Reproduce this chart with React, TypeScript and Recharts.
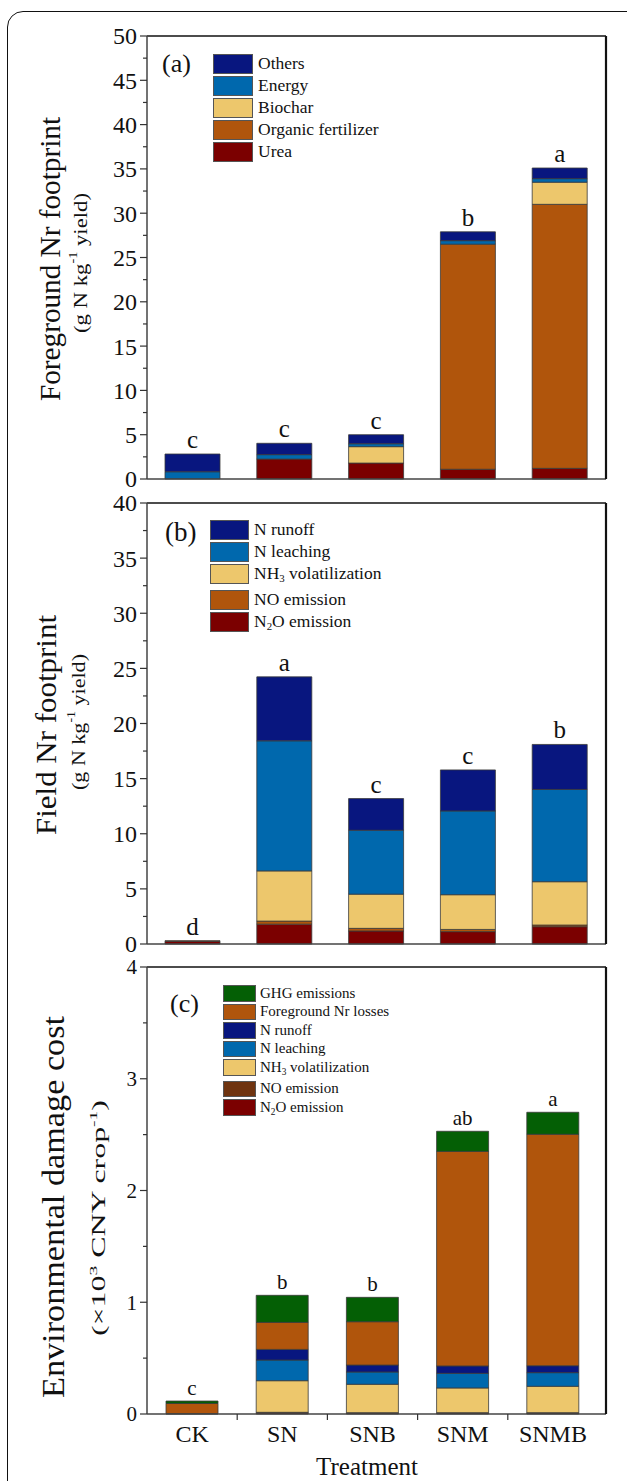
import React from 'react';
import { BarChart, Bar, XAxis, YAxis, LabelList } from 'recharts';

const FONT = '"Liberation Serif", "Times New Roman", serif';

// ---------- data ----------
const treatments = ['CK', 'SN', 'SNB', 'SNM', 'SNMB'];

// (a) Foreground Nr footprint (g N kg-1 yield)
const aUrea = [0, 2.25, 1.8, 1.1, 1.2];
const aOrganic = [0, 0, 0, 25.4, 29.8];
const aBiochar = [0, 0, 1.85, 0, 2.5];
const aEnergy = [0.82, 0.5, 0.33, 0.4, 0.4];
const aOthers = [2.0, 1.28, 1.02, 1.0, 1.2];
const aSig = ['c', 'c', 'c', 'b', 'a'];
const aTicks = [0, 2.5, 5, 7.5, 10, 12.5, 15, 17.5, 20, 22.5, 25, 27.5, 30, 32.5, 35, 37.5, 40, 42.5, 45, 47.5, 50];

// (b) Field Nr footprint (g N kg-1 yield)
const bN2O = [0.24, 1.8, 1.18, 1.12, 1.57];
const bNO = [0.06, 0.28, 0.24, 0.2, 0.15];
const bNH3 = [0, 4.55, 3.1, 3.15, 3.93];
const bLeach = [0, 11.8, 5.8, 7.6, 8.37];
const bRunoff = [0, 5.8, 2.87, 3.72, 4.08];
const bSig = ['d', 'a', 'c', 'c', 'b'];
const bTicks = [0, 2.5, 5, 7.5, 10, 12.5, 15, 17.5, 20, 22.5, 25, 27.5, 30, 32.5, 35, 37.5, 40];

// (c) Environmental damage cost (x10^3 CNY crop-1)
const cN2O = [0.003, 0.01, 0.008, 0.008, 0.008];
const cNO = [0.001, 0.005, 0.004, 0.004, 0.004];
const cNH3 = [0, 0.283, 0.254, 0.221, 0.236];
const cLeach = [0, 0.185, 0.11, 0.131, 0.122];
const cRunoff = [0, 0.095, 0.062, 0.066, 0.062];
const cForeground = [0.09, 0.242, 0.388, 1.92, 2.071];
const cGHG = [0.022, 0.242, 0.218, 0.18, 0.197];
const cSig = ['c', 'b', 'b', 'ab', 'a'];
const cTicks = [0, 0.5, 1, 1.5, 2, 2.5, 3, 3.5, 4];

// ---------- colours ----------
const NAVY = '#08167f';
const BLUE = '#0068ad';
const YELLOW = '#edc76c';
const ORANGE = '#b0550c';
const DARKRED = '#7b0000';
const GREEN = '#045f05';
const BROWN = '#6f3410';
const OUTLINE = '#3a3a3a';

const rowsA = treatments.map((name, i) => ({
  name, urea: aUrea[i], organic: aOrganic[i], biochar: aBiochar[i], energy: aEnergy[i], others: aOthers[i], sig: aSig[i],
}));
const rowsB = treatments.map((name, i) => ({
  name, n2o: bN2O[i], no: bNO[i], nh3: bNH3[i], leach: bLeach[i], runoff: bRunoff[i], sig: bSig[i],
}));
const rowsC = treatments.map((name, i) => ({
  name, n2o: cN2O[i], no: cNO[i], nh3: cNH3[i], leach: cLeach[i], runoff: cRunoff[i], fg: cForeground[i], ghg: cGHG[i], sig: cSig[i],
}));

const keysA = ['urea', 'organic', 'biochar', 'energy', 'others'];
const keysB = ['n2o', 'no', 'nh3', 'leach', 'runoff'];
const keysC = ['n2o', 'no', 'nh3', 'leach', 'runoff', 'fg', 'ghg'];

const makeYTick = (major: number, fontSize: number) => (props: any) => {
  const { x, y, payload } = props;
  const v = payload.value;
  const r = v / major;
  const isMajor = Math.abs(r - Math.round(r)) < 1e-6;
  return (
    <g>
      <line x1={x} x2={x - (isMajor ? 7 : 4)} y1={y} y2={y} stroke="#333" strokeWidth={1.2} />
      {isMajor && (
        <text x={x - 10} y={y} dy="0.35em" textAnchor="end" fontFamily={FONT} fontSize={fontSize} fill="#111">
          {v}
        </text>
      )}
    </g>
  );
};

const BAND_C = (606 - 147 - 8) / 5;
const XTickC = (props: any) => {
  const { x, y, payload, index } = props;
  return (
    <g>
      {index > 0 && (
        <line x1={x - BAND_C / 2} x2={x - BAND_C / 2} y1={y} y2={y + 6} stroke="#333" strokeWidth={1.2} />
      )}
      <text x={x} y={y + 28} textAnchor="middle" fontFamily={FONT} fontSize={24} fill="#111">
        {payload.value}
      </text>
    </g>
  );
};

// significance letter drawn on the topmost non-zero segment of each stack
const sigFor = (rows: any[], keys: string[], key: string, fontSize: number) => (p: any) => {
  const row = rows.find((r) => r.name === p.value);
  if (!row) return null;
  let top = '';
  keys.forEach((k) => { if (row[k] > 0) top = k; });
  if (top !== key) return null;
  const vb = p.viewBox || {};
  const x = (p.x ?? vb.x) + (p.width ?? vb.width) / 2;
  const y = p.y ?? vb.y;
  return (
    <text key={`sig-${key}-${row.name}`} x={x} y={y - 6} textAnchor="middle" fontFamily={FONT} fontSize={fontSize} fill="#111">
      {row.sig}
    </text>
  );
};

const barCommon = { stackId: 's', stroke: OUTLINE, strokeWidth: 0.8, isAnimationActive: false };

type LegendItem = { label: React.ReactNode; color: string; gap?: number };
function LegendBlock(props: {
  left: number; top: number; boxW: number; boxH: number; step: number; fontSize: number; textGap: number; items: LegendItem[];
}) {
  const { left, top, boxW, boxH, step, fontSize, textGap, items } = props;
  return (
    <div style={{ position: 'absolute', left, top, fontFamily: FONT, fontSize, color: '#111' }}>
      {items.map((it, i) => (
        <div key={i} style={{ display: 'flex', alignItems: 'center', height: step, marginTop: it.gap || 0 }}>
          <div style={{ width: boxW, height: boxH, background: it.color, border: '1px solid #555', boxSizing: 'border-box' }} />
          <span style={{ marginLeft: textGap, lineHeight: 1, whiteSpace: 'nowrap' }}>{it.label}</span>
        </div>
      ))}
    </div>
  );
}

const Sub = ({ children }: { children: React.ReactNode }) => (
  <span style={{ fontSize: '0.62em', position: 'relative', top: '0.3em' }}>{children}</span>
);

function Stack(props: { rows: any[]; keys: string[]; colors: string[]; barSize: number; sigSize: number }) {
  return null;
}

export default function App() {
  const axisLine = { stroke: '#444', strokeWidth: 1.5 };
  const frameLine = { stroke: '#111', strokeWidth: 1.5 };
  const rightLine = { stroke: '#111', strokeWidth: 2.2 };
  const colorsA = [DARKRED, ORANGE, YELLOW, BLUE, NAVY];
  const colorsB = [DARKRED, ORANGE, YELLOW, BLUE, NAVY];
  const colorsC = [DARKRED, BROWN, YELLOW, BLUE, NAVY, ORANGE, GREEN];
  return (
    <div style={{ position: 'absolute', left: 0, top: 0, width: 627, height: 1481, overflow: 'hidden', background: '#fff' }}>
      <div
        style={{
          position: 'absolute', left: 7, top: 11, width: 660, height: 1520,
          border: '1.5px solid #111', borderRadius: 16, boxSizing: 'border-box',
        }}
      />

      {/* (a) */}
      <div style={{ position: 'absolute', left: 0, top: 0 }}>
        <BarChart width={627} height={492} data={rowsA} margin={{ top: 35, right: 20, bottom: 12, left: 87 }}>
          <XAxis dataKey="name" height={1} tick={false} tickLine={false} axisLine={axisLine} />
          <XAxis xAxisId="top" orientation="top" dataKey="name" height={1} tick={false} tickLine={false} axisLine={frameLine} />
          <YAxis domain={[0, 50]} ticks={aTicks} interval={0} width={60} tickSize={0} tickMargin={0} tickLine={false}
            axisLine={axisLine} tick={makeYTick(5, 24)} />
          <YAxis yAxisId="right" orientation="right" domain={[0, 50]} width={1} tick={false} tickLine={false} axisLine={rightLine} />
          {keysA.map((k, i) => (
            <Bar key={k} dataKey={k} fill={colorsA[i]} barSize={55} {...barCommon}>
              <LabelList dataKey="name" content={sigFor(rowsA, keysA, k, 25)} />
            </Bar>
          ))}
        </BarChart>
      </div>

      {/* (b) */}
      <div style={{ position: 'absolute', left: 0, top: 470 }}>
        <BarChart width={627} height={487} data={rowsB} margin={{ top: 32, right: 20, bottom: 12, left: 87 }}>
          <XAxis dataKey="name" height={1} tick={false} tickLine={false} axisLine={axisLine} />
          <XAxis xAxisId="top" orientation="top" dataKey="name" height={1} tick={false} tickLine={false} axisLine={frameLine} />
          <YAxis domain={[0, 40]} ticks={bTicks} interval={0} width={60} tickSize={0} tickMargin={0} tickLine={false}
            axisLine={axisLine} tick={makeYTick(5, 24)} />
          <YAxis yAxisId="right" orientation="right" domain={[0, 40]} width={1} tick={false} tickLine={false} axisLine={rightLine} />
          {keysB.map((k, i) => (
            <Bar key={k} dataKey={k} fill={colorsB[i]} barSize={55} {...barCommon}>
              <LabelList dataKey="name" content={sigFor(rowsB, keysB, k, 25)} />
            </Bar>
          ))}
        </BarChart>
      </div>

      {/* (c) */}
      <div style={{ position: 'absolute', left: 0, top: 935 }}>
        <BarChart width={627} height={546} data={rowsC} margin={{ top: 31, right: 20, bottom: 0, left: 87 }}>
          <XAxis dataKey="name" height={67} padding={{ left: 0, right: 8 }} tickSize={0} tickMargin={0} tickLine={false}
            interval={0} axisLine={axisLine} tick={XTickC} />
          <XAxis xAxisId="top" orientation="top" dataKey="name" height={1} tick={false} tickLine={false} axisLine={frameLine} />
          <YAxis domain={[0, 4]} ticks={cTicks} interval={0} width={60} tickSize={0} tickMargin={0} tickLine={false}
            axisLine={axisLine} tick={makeYTick(1, 21)} />
          <YAxis yAxisId="right" orientation="right" domain={[0, 4]} width={1} tick={false} tickLine={false} axisLine={rightLine} />
          {keysC.map((k, i) => (
            <Bar key={k} dataKey={k} fill={colorsC[i]} barSize={52} {...barCommon}>
              <LabelList dataKey="name" content={sigFor(rowsC, keysC, k, 21)} />
            </Bar>
          ))}
        </BarChart>
      </div>

      {/* legends */}
      <LegendBlock left={213} top={52.75} boxW={40} boxH={19.5} step={22} fontSize={17.5} textGap={5}
        items={[
          { label: 'Others', color: NAVY },
          { label: 'Energy', color: BLUE },
          { label: 'Biochar', color: YELLOW },
          { label: 'Organic fertilizer', color: ORANGE },
          { label: 'Urea', color: DARKRED },
        ]} />
      <LegendBlock left={210} top={518.75} boxW={39} boxH={19.5} step={22} fontSize={17.5} textGap={5}
        items={[
          { label: 'N runoff', color: NAVY },
          { label: 'N leaching', color: BLUE },
          { label: <>NH<Sub>3</Sub> volatilization</>, color: YELLOW },
          { label: 'NO emission', color: ORANGE, gap: 4 },
          { label: <>N<Sub>2</Sub>O emission</>, color: DARKRED },
        ]} />
      <LegendBlock left={223} top={984} boxW={33} boxH={16.5} step={18.5} fontSize={15} textGap={4}
        items={[
          { label: 'GHG emissions', color: GREEN },
          { label: 'Foreground Nr losses', color: ORANGE },
          { label: 'N runoff', color: NAVY },
          { label: 'N leaching', color: BLUE },
          { label: <>NH<Sub>3</Sub> volatilization</>, color: YELLOW },
          { label: 'NO emission', color: BROWN, gap: 3 },
          { label: <>N<Sub>2</Sub>O emission</>, color: DARKRED },
        ]} />

      {/* axis titles & panel letters */}
      <svg width={627} height={1481} style={{ position: 'absolute', left: 0, top: 0, pointerEvents: 'none' }}>
        <g fontFamily={FONT} fill="#111">
          <text x={162} y={63} dominantBaseline="central" fontSize={26}>(a)</text>
          <text x={165} y={532} dominantBaseline="central" fontSize={27}>(b)</text>
          <text x={170} y={1003} dominantBaseline="central" fontSize={26}>(c)</text>

          <text transform="translate(50,259) rotate(-90)" textAnchor="middle" dominantBaseline="central" fontSize={29}
            textLength={284} lengthAdjust="spacingAndGlyphs">
            Foreground Nr footprint
          </text>
          <text transform="translate(80,263) rotate(-90)" textAnchor="middle" dominantBaseline="central" fontSize={19}
            textLength={140} lengthAdjust="spacingAndGlyphs">
            (g N kg<tspan baselineShift="super" fontSize={12}>-1</tspan> yield)
          </text>

          <text transform="translate(45,725) rotate(-90)" textAnchor="middle" dominantBaseline="central" fontSize={30}
            textLength={220} lengthAdjust="spacingAndGlyphs">
            Field Nr footprint
          </text>
          <text transform="translate(78,722) rotate(-90)" textAnchor="middle" dominantBaseline="central" fontSize={19}
            textLength={136} lengthAdjust="spacingAndGlyphs">
            (g N kg<tspan baselineShift="super" fontSize={12}>-1</tspan> yield)
          </text>

          <text transform="translate(53,1207) rotate(-90)" textAnchor="middle" dominantBaseline="central" fontSize={32}
            textLength={382} lengthAdjust="spacingAndGlyphs">
            Environmental damage cost
          </text>
          <text transform="translate(99,1218) rotate(-90)" textAnchor="middle" dominantBaseline="central" fontSize={18}
            textLength={236} lengthAdjust="spacingAndGlyphs">
            (×10<tspan baselineShift="super" fontSize={11}>3</tspan> CNY crop<tspan baselineShift="super" fontSize={11}>-1</tspan>)
          </text>

          <text x={367} y={1475} textAnchor="middle" fontSize={25}>Treatment</text>
        </g>
      </svg>
    </div>
  );
}
